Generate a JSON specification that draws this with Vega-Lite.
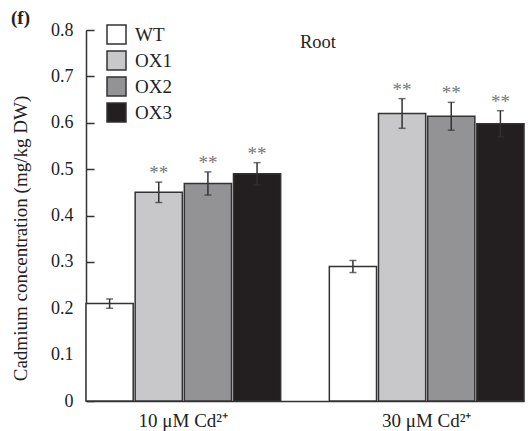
{
  "$schema": "https://vega.github.io/schema/vega-lite/v6.json",
  "width": 438,
  "height": 371,
  "autosize": "none",
  "padding": {"left": 86, "top": 30, "right": 4, "bottom": 30},
  "title": {"text": "(f)", "anchor": "start", "frame": "bounds", "font": "Liberation Serif", "fontSize": 19, "fontWeight": "bold", "color": "#222", "dy": 7, "offset": 0},
  "config": {
    "view": {"stroke": null},
    "font": "Liberation Serif",
    "axis": {"labelFont": "Liberation Serif", "titleFont": "Liberation Serif", "labelColor": "#222", "titleColor": "#222", "domainColor": "#333", "domainWidth": 1.5, "tickColor": "#333", "tickWidth": 1.5, "grid": false}
  },
  "data": {"values": [
    {"cd": "10 μM Cd²⁺", "line": "WT", "mean": 0.21, "lo": 0.2, "hi": 0.22, "sig": ""},
    {"cd": "10 μM Cd²⁺", "line": "OX1", "mean": 0.45, "lo": 0.428, "hi": 0.472, "sig": "**"},
    {"cd": "10 μM Cd²⁺", "line": "OX2", "mean": 0.469, "lo": 0.444, "hi": 0.494, "sig": "**"},
    {"cd": "10 μM Cd²⁺", "line": "OX3", "mean": 0.49, "lo": 0.466, "hi": 0.514, "sig": "**"},
    {"cd": "30 μM Cd²⁺", "line": "WT", "mean": 0.29, "lo": 0.277, "hi": 0.303, "sig": ""},
    {"cd": "30 μM Cd²⁺", "line": "OX1", "mean": 0.62, "lo": 0.588, "hi": 0.652, "sig": "**"},
    {"cd": "30 μM Cd²⁺", "line": "OX2", "mean": 0.614, "lo": 0.584, "hi": 0.644, "sig": "**"},
    {"cd": "30 μM Cd²⁺", "line": "OX3", "mean": 0.598, "lo": 0.57, "hi": 0.626, "sig": "**"}
  ]},
  "encoding": {
    "x": {"field": "cd", "type": "nominal", "scale": {"paddingInner": 0.2, "paddingOuter": 0}, "axis": {"title": null, "labelAngle": 0, "labelFontSize": 19, "ticks": false, "labelPadding": 10}},
    "xOffset": {"field": "line", "type": "nominal", "sort": ["WT", "OX1", "OX2", "OX3"], "scale": {"paddingInner": 0.04, "paddingOuter": 0}}
  },
  "layer": [
    {
      "mark": {"type": "bar", "stroke": "#333", "strokeWidth": 1.5},
      "encoding": {
        "y": {"field": "mean", "type": "quantitative", "scale": {"domain": [0, 0.8]}, "axis": {"title": "Cadmium concentration (mg/kg DW)", "titleFontSize": 19, "titleFontWeight": "normal", "titleX": -56, "titleY": 208, "labelFontSize": 18, "values": [0, 0.1, 0.2, 0.3, 0.4, 0.5, 0.6, 0.7, 0.8], "labelExpr": "datum.value == 0 ? '0' : format(datum.value, '.1f')", "tickSize": -8, "labelPadding": 21}},
        "fill": {"field": "line", "type": "nominal", "sort": ["WT", "OX1", "OX2", "OX3"], "scale": {"domain": ["WT", "OX1", "OX2", "OX3"], "range": ["#ffffff", "#c8c8ca", "#939396", "#231f20"]}, "legend": {"title": null, "orient": "none", "legendX": 20, "legendY": -6, "padding": 0, "symbolType": "square", "symbolSize": 361, "symbolStrokeColor": "#333", "symbolStrokeWidth": 1.5, "symbolOpacity": 1, "labelFont": "Liberation Serif", "labelFontSize": 19, "labelColor": "#222", "rowPadding": 1, "labelOffset": 8}}
      }
    },
    {
      "mark": {"type": "rule", "color": "#333", "strokeWidth": 1.5},
      "encoding": {"y": {"field": "lo", "type": "quantitative"}, "y2": {"field": "hi"}}
    },
    {
      "mark": {"type": "tick", "color": "#333", "thickness": 1.5, "size": 7},
      "encoding": {"y": {"field": "hi", "type": "quantitative"}}
    },
    {
      "mark": {"type": "tick", "color": "#333", "thickness": 1.5, "size": 7},
      "encoding": {"y": {"field": "lo", "type": "quantitative"}}
    },
    {
      "mark": {"type": "text", "color": "#777", "fontSize": 19, "baseline": "alphabetic", "dy": -3, "font": "Liberation Serif"},
      "encoding": {"y": {"field": "hi", "type": "quantitative"}, "text": {"field": "sig"}}
    },
    {
      "data": {"values": [{"label": "Root", "cd": "30 μM Cd²⁺", "line": "WT", "yv": 0.775}]},
      "mark": {"type": "text", "fontSize": 18.5, "color": "#222", "font": "Liberation Serif", "dx": -35},
      "encoding": {"y": {"field": "yv", "type": "quantitative"}, "text": {"field": "label"}}
    }
  ]
}
